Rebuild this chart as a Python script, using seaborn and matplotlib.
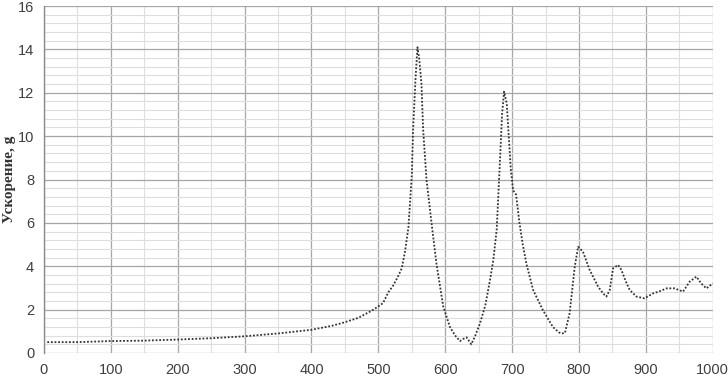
import numpy as np
import pandas as pd
import matplotlib
matplotlib.use('Agg')
import matplotlib.pyplot as plt
from matplotlib.ticker import MultipleLocator
import seaborn as sns

# frequency (Hz) and acceleration (g)
freq = [5, 50, 100, 150, 200, 250, 300, 350, 400, 430, 450, 470, 490, 500, 507,
        515, 522, 529, 535, 540, 545, 550, 552, 555.5, 558.5, 561, 564.5, 567, 572,
        579.5, 587, 597, 607, 615, 622, 627, 632, 639, 645, 652, 660, 667, 672,
        677, 681.6, 685, 688, 692, 695, 698, 701.5, 706, 711, 716, 721.5, 731.5,
        746, 761, 770, 774, 779, 786, 793.7, 798.7, 806, 816, 828.6, 836, 841,
        846, 851, 858.5, 863.5, 870, 876, 886, 898, 911, 921, 931, 943, 955.6,
        965.6, 975.6, 983, 990.6, 1000]
accel = [0.5, 0.5, 0.55, 0.57, 0.62, 0.68, 0.77, 0.9, 1.07, 1.25, 1.42, 1.62,
         1.95, 2.15, 2.3, 2.8, 3.1, 3.5, 3.9, 4.7, 5.8, 8.2, 10.3, 12.6, 14.1,
         13.6, 12.4, 10.3, 8.0, 6.0, 4.1, 2.15, 1.2, 0.8, 0.55, 0.65, 0.72, 0.4,
         0.8, 1.37, 2.2, 3.37, 4.3, 5.7, 8.7, 11.0, 12.05, 11.5, 10.0, 8.5, 7.5,
         7.3, 6.0, 5.0, 4.1, 2.9, 1.98, 1.2, 0.95, 0.9, 0.92, 1.83, 3.98, 4.9,
         4.67, 3.83, 3.06, 2.75, 2.6, 2.9, 3.9, 4.06, 3.83, 3.3, 2.9, 2.6, 2.52,
         2.75, 2.85, 2.98, 2.98, 2.83, 3.29, 3.52, 3.2, 2.98, 3.21]

df = pd.DataFrame({'freq': freq, 'accel': accel})

sns.set_style('white')
plt.rcParams['font.family'] = ['Liberation Sans', 'DejaVu Sans']

fig = plt.figure(figsize=(7.28, 3.77), dpi=100)
ax = fig.add_axes([0.0604, 0.0637, 0.9186, 0.9203])

sns.lineplot(data=df, x='freq', y='accel', ax=ax, sort=False, estimator=None,
             color='#333333', linestyle=(0, (1, 1)), linewidth=1.3, zorder=3)

ax.set_xlim(0, 1000)
ax.set_ylim(0, 16)
ax.xaxis.set_major_locator(MultipleLocator(100))
ax.xaxis.set_minor_locator(MultipleLocator(50))
ax.yaxis.set_major_locator(MultipleLocator(2))
ax.yaxis.set_minor_locator(MultipleLocator(0.4))

ax.grid(which='major', color='#a6a6a6', linewidth=0.9)
ax.grid(which='minor', color='#dedede', linewidth=0.8)
ax.set_axisbelow(True)

for side in ['top', 'right', 'bottom']:
    ax.spines[side].set_visible(False)
ax.spines['left'].set_color('#8c8c8c')
ax.spines['left'].set_linewidth(1.0)

ax.tick_params(axis='both', which='major', length=4, color='#a6a6a6',
               labelsize=10.5, labelcolor='#404040', pad=3)
ax.tick_params(axis='both', which='minor', length=0)

ax.set_xlabel('')
ax.set_ylabel('Ускорение, g', fontsize=11, fontweight='bold', color='#333333',
              family=['Liberation Serif', 'DejaVu Serif'], labelpad=1)

fig.savefig('out.png', dpi=100)
